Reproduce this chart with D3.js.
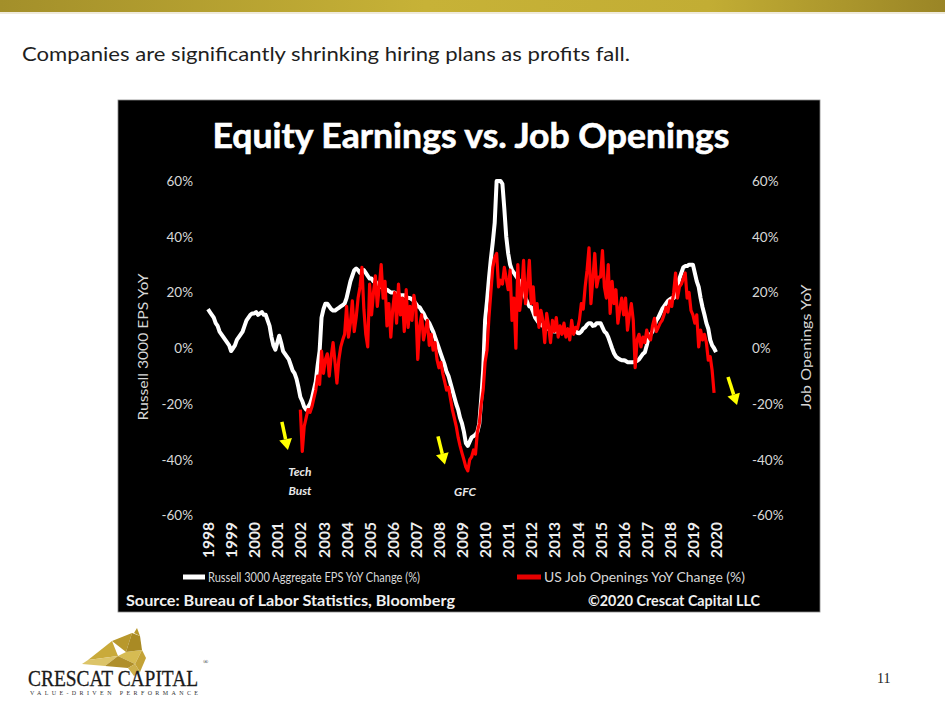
<!DOCTYPE html>
<html>
<head>
<meta charset="utf-8">
<script src="https://cdn.jsdelivr.net/npm/d3@7"></script>
<style>
  html, body { margin: 0; padding: 0; background: #fff; }
  svg { display: block; }
</style>
</head>
<body>
<svg id="chart" width="945" height="714"></svg>
<script>
// ---------------- DATA ----------------
const years = d3.range(1998, 2021);               // tick labels 1998..2020
const yTicks = [-60, -40, -20, 0, 20, 40, 60];

// Russell 3000 Aggregate EPS YoY change (%), monthly from Jan 1998
const epsStart = 1998;
const epsValues = [
  14, 13, 12, 11, 9, 8, 6, 5, 4, 3, 2, 1,                         // 1998
  -1, 0, 1, 3, 4, 5, 6, 8, 10, 11, 12, 12.5,                      // 1999
  12.5, 13, 12, 12.5, 13, 12, 12, 10, 8, 4, 1, -0.5,              // 2000
  2, 4.5, 2, -1, -2, -3, -4, -6, -8, -9, -11, -14,                // 2001
  -17.5, -19, -21, -22, -21, -20, -18, -15, -12, -6, -1, 11,      // 2002
  14, 16, 16, 15, 14, 13.5, 13.5, 14, 14.5, 15, 15.5, 16,         // 2003
  18, 21, 24, 26, 28, 28.6, 28, 27, 27.5, 28, 27, 26,             // 2004
  25, 25, 24, 24, 23, 22, 22, 21.5, 21, 21, 20.5, 20,             // 2005
  20, 20, 19.5, 19.5, 19, 19, 19, 18.5, 18, 18, 17.5, 17,         // 2006
  16, 15, 14.7, 13.5, 12.5, 11, 10, 9, 7.5, 6, 4, 2,              // 2007
  0, -2, -4, -6, -8.5, -10, -12.5, -15, -17.5, -20, -22, -25,     // 2008
  -27, -30, -34, -35, -33.5, -32, -31.5, -31, -30, -27, -18, -8,  // 2009
  10, 17, 25, 32, 38, 45, 60, 60, 60, 59, 50, 40,                 // 2010
  34, 30, 28, 27, 26, 25, 24, 22, 20, 18, 16.5, 15,               // 2011
  14.7, 13, 11, 10, 9, 8.5, 8, 7.5, 7, 7, 6.5, 6.5,               // 2012
  6, 6, 6.5, 6.5, 6, 6, 6, 6.5, 6.5, 6.5, 6, 6.5,                 // 2013
  5.5, 5.4, 6, 7, 7.5, 8.5, 9, 9, 8, 8.2, 9, 9,                   // 2014
  9, 7.5, 6, 5.4, 4, 2, 0, -1.8, -3, -3.5, -4, -4.3,              // 2015
  -4.3, -4.5, -5, -5, -5, -5, -4.8, -4.5, -4, -3, -2, -1.5,       // 2016
  1, 4, 5, 6, 8, 10, 11, 12.5, 14, 15, 16, 17,                    // 2017
  17.5, 18, 18, 19, 22, 25, 27, 29, 29.5, 29.5, 30, 30,           // 2018
  30, 27, 24, 22, 18, 14.7, 12, 9, 7, 3, 1, 0,                    // 2019
  -1.4                                                            // 2020
];

// US Job Openings YoY change (%), monthly from Jan 2002
const jobsStart = 2002;
const jobsValues = [
  -22, -37, -28, -25, -22, -23, -21, -18, -15, -10, -13, -1,      // 2002
  -9, -4, -2, -10, -3, 2, -5, -12.5, -4, 0.5, 3, 5,               // 2003
  15, 4, 9, 17, 6, 11, 18, 22, 29, 14, 5, 0.5,                    // 2004
  23, 12, 20, 26, 15, 22, 30, 18, 24, 8, 16, 4,                   // 2005
  14, 20, 9, 23, 12, 18, 6, 21, 7.5, 15, 10, 19,                  // 2006
  14.7, -4, 8, 12, 3, 6.5, 10, 1, 5, -0.7, 2, -4,                 // 2007
  -7, -5, -9, -12, -15, -14, -18, -22, -25, -28, -32, -35,        // 2008
  -37.6, -40, -42.6, -44, -40, -39, -36.5, -38, -30, -27, -20, -15, // 2009
  -5, -0.7, 11, 20, 29, 32.6, 34, 22, 24.4, 23, 29, 25,           // 2010
  21, 28, 10, 18, 0, 30, 13.6, 20, 31.5, 16, 22, 31.5,            // 2011
  16, 22, 12, 16, 7.5, 13.6, 10, 2, 12.5, 8, 2, 10,               // 2012
  6, 11, 4, 8, 5, 9, 4, 7, 3, 10, 5, 7.5,                         // 2013
  7, 10, 16, 14, 22, 28, 36, 16, 25, 34, 22, 25.5,                // 2014
  25.5, 35, 22, 18, 30, 12.5, 24, 16, 21, 9, 14, 18,              // 2015
  12, 18, 6.5, 12, 16, 10, -7, 3, 5, 0.5, 4, 2,                   // 2016
  6.5, 4, 3, 8, 10.7, 6, 7.5, 9, 10, 12, 14.7, 13,                // 2017
  17, 15, 20, 27, 18, 22, 23, 25, 27, 18, 20, 13.6,               // 2018
  12, 9, 12, 0.5, 6.5, 3, 5, 2, -4.3, -3, -8, -16                 // 2019
];

// annotations in data coordinates (year, value)
const arrows = [
  { x1: 2001.2,  y1: -26.4, x2: 2001.46, y2: -36.5 },
  { x1: 2007.96, y1: -31.6, x2: 2008.26, y2: -41.7 },
  { x1: 2020.52, y1: -10.3, x2: 2020.91, y2: -20.4 }
];
const notes = [
  { x: 2001.98, y: -44.4, text: "Tech" },
  { x: 2001.98, y: -51.2, text: "Bust" },
  { x: 2009.13, y: -51.5, text: "GFC" }
];

const pageHeading = "Companies are significantly shrinking hiring plans as profits fall.";
const chartTitle = "Equity Earnings vs. Job Openings";
const legendLabels = ["Russell 3000 Aggregate EPS YoY Change (%)", "US Job Openings YoY Change (%)"];
const leftTitle = "Russell 3000 EPS YoY";
const rightTitle = "Job Openings YoY";
const sourceText = "Source: Bureau of Labor Statistics, Bloomberg";
const copyText = "\u00A92020 Crescat Capital LLC";

// ---------------- DRAW ----------------
const svg = d3.select("#chart");
const FONT = "Lato, 'Open Sans', sans-serif";

// gold top band
const defs = svg.append("defs");
const grad = defs.append("linearGradient").attr("id", "gold").attr("x1", "0").attr("x2", "1");
grad.append("stop").attr("offset", "0").attr("stop-color", "#a38f2a");
grad.append("stop").attr("offset", "0.45").attr("stop-color", "#c7b237");
grad.append("stop").attr("offset", "0.75").attr("stop-color", "#c2ad34");
grad.append("stop").attr("offset", "1").attr("stop-color", "#9a8526");
svg.append("rect").attr("x", 0).attr("y", 0).attr("width", 945).attr("height", 12).attr("fill", "url(#gold)");
svg.append("rect").attr("x", 0).attr("y", 12).attr("width", 945).attr("height", 2).attr("fill", "#efeadb");

svg.append("text").attr("x", 22).attr("y", 61)
  .attr("font-family", FONT).attr("font-size", 20).attr("fill", "#1e1e1e")
  .attr("textLength", 608).attr("lengthAdjust", "spacingAndGlyphs")
  .text(pageHeading);

// black chart panel
svg.append("rect").attr("x", 118).attr("y", 100).attr("width", 702).attr("height", 512)
  .attr("fill", "#000").attr("stroke", "#888").attr("stroke-width", 0.8);

svg.append("text").attr("x", 471).attr("y", 148).attr("text-anchor", "middle")
  .attr("font-family", FONT).attr("font-weight", "bold").attr("font-size", 34).attr("fill", "#fff")
  .attr("stroke", "#fff").attr("stroke-width", 0.6)
  .attr("textLength", 517).attr("lengthAdjust", "spacingAndGlyphs")
  .text(chartTitle);

const x = d3.scaleLinear().domain([1998, 2020]).range([208, 716]);
const y = d3.scaleLinear().domain([-60, 60]).range([515.5, 181]);

// axes
const axL = svg.append("g").attr("transform", "translate(196,0)")
  .call(d3.axisLeft(y).tickValues(yTicks).tickSize(0).tickPadding(3).tickFormat(d => d + "%"));
const axR = svg.append("g").attr("transform", "translate(749,0)")
  .call(d3.axisRight(y).tickValues(yTicks).tickSize(0).tickPadding(3).tickFormat(d => d + "%"));
[axL, axR].forEach(a => {
  a.select(".domain").remove();
  a.selectAll("text").attr("font-family", FONT).attr("font-size", 13.5).attr("fill", "#d8d8d8");
});

const axB = svg.append("g").attr("transform", "translate(0,520)")
  .call(d3.axisBottom(x).tickValues(years).tickSize(0).tickFormat(d3.format("d")));
axB.select(".domain").remove();
axB.selectAll("text")
  .attr("font-family", FONT).attr("font-weight", "bold").attr("font-size", 15.5).attr("fill", "#eee")
  .attr("transform", "rotate(-90)").attr("text-anchor", "end")
  .attr("x", -2).attr("y", 0).attr("dy", "0.36em");

svg.append("text").attr("transform", "translate(148,347) rotate(-90)").attr("text-anchor", "middle")
  .attr("font-family", FONT).attr("font-size", 13.5).attr("fill", "#d8d8d8")
  .attr("textLength", 147).attr("lengthAdjust", "spacingAndGlyphs").text(leftTitle);
svg.append("text").attr("transform", "translate(811,347) rotate(-90)").attr("text-anchor", "middle")
  .attr("font-family", FONT).attr("font-size", 13.5).attr("fill", "#d8d8d8")
  .attr("textLength", 125).attr("lengthAdjust", "spacingAndGlyphs").text(rightTitle);

// series
const eps = epsValues.map((v, i) => ({ t: epsStart + i / 12, v }));
const jobs = jobsValues.map((v, i) => ({ t: jobsStart + i / 12, v }));
const line = d3.line().x(d => x(d.t)).y(d => y(d.v));

svg.append("path").datum(eps).attr("d", line)
  .attr("fill", "none").attr("stroke", "#fff").attr("stroke-width", 4).attr("stroke-linejoin", "round");
svg.append("path").datum(jobs).attr("d", line)
  .attr("fill", "none").attr("stroke", "#ff0000").attr("stroke-width", 3.2).attr("stroke-linejoin", "round");

// arrows
arrows.forEach(a => {
  const X1 = x(a.x1), Y1 = y(a.y1), X2 = x(a.x2), Y2 = y(a.y2);
  const ang = Math.atan2(Y2 - Y1, X2 - X1);
  const hl = 11, hw = 6.5;
  const bx = X2 - hl * Math.cos(ang), by = Y2 - hl * Math.sin(ang);
  svg.append("line").attr("x1", X1).attr("y1", Y1).attr("x2", bx).attr("y2", by)
    .attr("stroke", "#ffff00").attr("stroke-width", 3.5);
  const px = -Math.sin(ang), py = Math.cos(ang);
  svg.append("polygon")
    .attr("points", [[X2, Y2], [bx + px * hw, by + py * hw], [bx - px * hw, by - py * hw]].map(p => p.join(",")).join(" "))
    .attr("fill", "#ffff00");
});
notes.forEach(n => {
  svg.append("text").attr("x", x(n.x)).attr("y", y(n.y)).attr("text-anchor", "middle").attr("dy", "0.35em")
    .attr("font-family", FONT).attr("font-weight", "bold").attr("font-style", "italic")
    .attr("font-size", 12).attr("fill", "#e8e8e8").text(n.text);
});

// legend
const lg = svg.append("g");
lg.append("line").attr("x1", 183).attr("x2", 205).attr("y1", 577).attr("y2", 577)
  .attr("stroke", "#fff").attr("stroke-width", 5);
lg.append("text").attr("x", 208).attr("y", 581.5).attr("font-family", FONT).attr("font-size", 14)
  .attr("fill", "#d8d8d8").attr("textLength", 212).attr("lengthAdjust", "spacingAndGlyphs").text(legendLabels[0]);
lg.append("line").attr("x1", 517).attr("x2", 541).attr("y1", 577).attr("y2", 577)
  .attr("stroke", "#e60000").attr("stroke-width", 5);
lg.append("text").attr("x", 544).attr("y", 581.5).attr("font-family", FONT).attr("font-size", 14)
  .attr("fill", "#d8d8d8").attr("textLength", 201).attr("lengthAdjust", "spacingAndGlyphs").text(legendLabels[1]);

svg.append("text").attr("x", 126).attr("y", 605.5).attr("font-family", FONT).attr("font-weight", "bold")
  .attr("font-size", 15).attr("fill", "#f0f0f0").attr("textLength", 329).attr("lengthAdjust", "spacingAndGlyphs")
  .text(sourceText);
svg.append("text").attr("x", 760).attr("y", 605.5).attr("text-anchor", "end").attr("font-family", FONT)
  .attr("font-weight", "bold").attr("font-size", 15).attr("fill", "#f0f0f0")
  .attr("textLength", 172).attr("lengthAdjust", "spacingAndGlyphs").text(copyText);

// logo
const logo = svg.append("g");
const shards = [
  { p: "88,660 112,641 118,656", c: "#c9aa3a" },
  { p: "112,641 132,633 126,652", c: "#b8982c" },
  { p: "118,656 126,652 142,650 135,664", c: "#d6bb52" },
  { p: "132,633 140,636 142,650 126,652", c: "#a98a24" },
  { p: "135,664 142,650 146,658 140,672", c: "#c3a236" },
  { p: "82,664 88,660 118,656 105,666", c: "#dcc468" },
  { p: "105,666 118,656 135,664 128,668", c: "#b08f2a" },
  { p: "128,668 135,664 140,672 134,676", c: "#cdb04a" },
  { p: "134,633 137,628 140,636", c: "#b8982c" }
];
shards.forEach(s => logo.append("polygon").attr("points", s.p).attr("fill", s.c));
logo.append("text").attr("x", 28).attr("y", 686).attr("font-family", "'Liberation Serif', serif")
  .attr("font-size", 24).attr("fill", "#1a1a1a").attr("stroke", "#1a1a1a").attr("stroke-width", 0.3)
  .attr("textLength", 170).attr("lengthAdjust", "spacingAndGlyphs")
  .text("CRESCAT CAPITAL");
logo.append("text").attr("x", 203).attr("y", 664).attr("font-family", "'Liberation Serif', serif")
  .attr("font-size", 7).attr("fill", "#222").text("\u00AE");
logo.append("text").attr("x", 30).attr("y", 695).attr("font-family", "'Liberation Serif', serif")
  .attr("font-size", 6).attr("fill", "#333").attr("textLength", 168).attr("lengthAdjust", "spacing")
  .text("VALUE-DRIVEN PERFORMANCE");

svg.append("text").attr("x", 877).attr("y", 683).attr("font-family", "'Liberation Serif', serif")
  .attr("font-size", 14).attr("fill", "#222").text("11");
</script>
</body>
</html>
